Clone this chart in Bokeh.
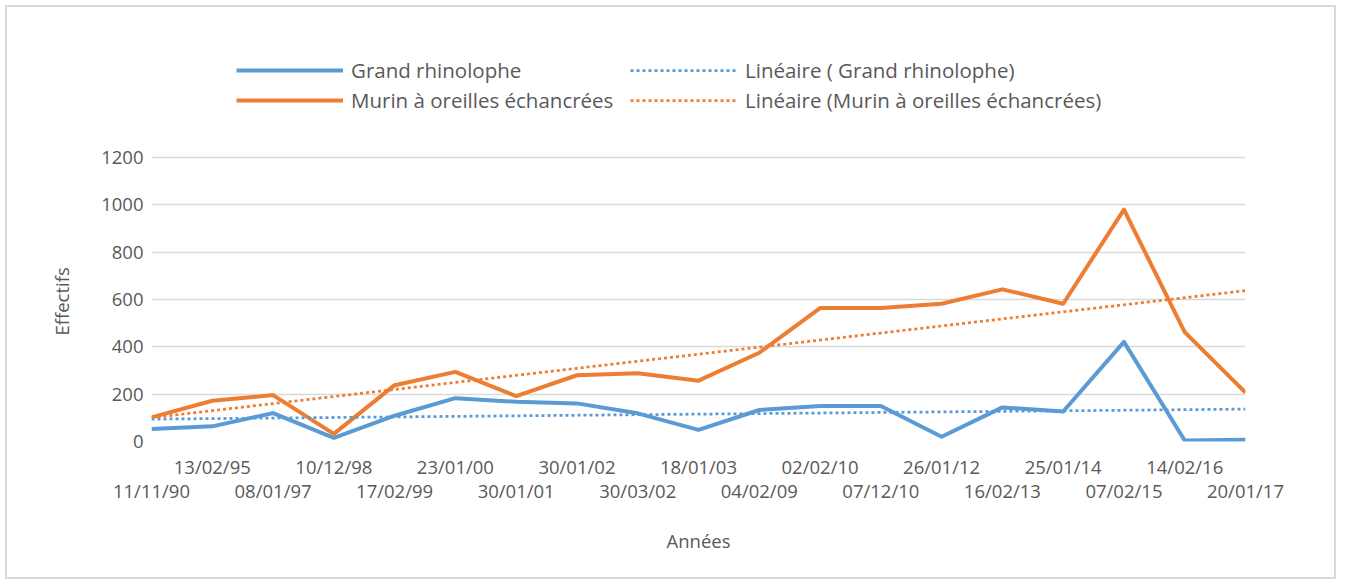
import numpy as np
from bokeh.plotting import figure
from bokeh.models import Range1d, LinearAxis, FixedTicker, Legend, LegendItem, Title
from bokeh.embed import file_html
from bokeh.resources import INLINE

dates = ["11/11/90", "13/02/95", "08/01/97", "10/12/98", "17/02/99", "23/01/00",
         "30/01/01", "30/01/02", "30/03/02", "18/01/03", "04/02/09", "02/02/10",
         "07/12/10", "26/01/12", "16/02/13", "25/01/14", "07/02/15", "14/02/16",
         "20/01/17"]
grand_rhinolophe = [53, 64, 120, 15, 109, 183, 168, 161, 119, 49, 133, 150,
                    150, 20, 144, 127, 421, 4, 7]
murin = [102, 172, 196, 32, 238, 294, 192, 280, 288, 257, 375, 564,
         564, 582, 643, 582, 980, 462, 207]
y_ticks = [0, 200, 400, 600, 800, 1000, 1200]

BLUE = "#5B9BD5"
ORANGE = "#ED7D31"
GREY = "#595959"
FONT = "Open Sans"
FS = "18.5px"
LFS = "20.5px"

idx = list(range(len(dates)))

def trend(vals):
    a, b = np.polyfit(idx, vals, 1)
    xs = [idx[0], idx[-1]]
    return xs, [a * x + b for x in xs]

# frame extends above the 1200 line so the legend (drawn inside the frame) is visible
FRAME_TOP = 20
FRAME_H = 414
PLOT_H = 284  # pixels between 0 and 1200
y_top = y_ticks[-1] * FRAME_H / PLOT_H

p = figure(width=1331, height=574, output_backend="svg", toolbar_location=None,
           x_range=Range1d(idx[0], idx[-1]), y_range=Range1d(0, y_top),
           x_axis_location=None, y_axis_location=None,
           min_border_left=144, min_border_right=93, min_border_top=FRAME_TOP,
           min_border_bottom=140)
p.styles = {"border": "2px solid #d9d9d9", "margin-left": "5px", "margin-top": "5px"}
p.outline_line_color = None
p.background_fill_color = "white"
p.border_fill_color = "white"

# Y axis
yticker = FixedTicker(ticks=y_ticks)
yax = LinearAxis(ticker=yticker)
p.add_layout(yax, "left")
yax.axis_line_color = None
yax.major_tick_line_color = None
yax.minor_tick_line_color = None
yax.major_label_standoff = 2
yax.major_label_text_font = FONT
yax.major_label_text_font_size = FS
yax.major_label_text_color = GREY

# y axis title, placed on the 0..1200 band rather than on the whole frame
ytitle = Title(text="Effectifs", align="left", offset=106, standoff=50,
               text_font=FONT, text_font_size=FS, text_font_style="normal",
               text_color=GREY)
p.add_layout(ytitle, "left")

p.ygrid.ticker = yticker
p.ygrid.grid_line_color = "#D9D9D9"
p.ygrid.grid_line_width = 1.3
p.xgrid.visible = False

# two staggered X axes
odd = [i for i in idx if i % 2 == 1]
even = [i for i in idx if i % 2 == 0]
ax1 = LinearAxis(ticker=FixedTicker(ticks=odd),
                 major_label_overrides={i: dates[i] for i in odd})
ax2 = LinearAxis(ticker=FixedTicker(ticks=even),
                 major_label_overrides={i: dates[i] for i in even},
                 axis_label="Années")
for ax in (ax1, ax2):
    ax.axis_line_color = None
    ax.major_tick_line_color = None
    ax.minor_tick_line_color = None
    ax.major_tick_out = 0
    ax.major_label_text_font = FONT
    ax.major_label_text_font_size = FS
    ax.major_label_text_color = GREY
    ax.axis_label_text_font = FONT
    ax.axis_label_text_font_size = FS
    ax.axis_label_text_font_style = "normal"
    ax.axis_label_text_color = GREY
ax1.major_label_standoff = 12
ax2.major_label_standoff = -4
ax2.axis_label_standoff = 22
p.add_layout(ax1, "below")
p.add_layout(ax2, "below")

# Data lines
r_gr = p.line(idx, grand_rhinolophe, line_color=BLUE, line_width=4, line_join="round")
r_mu = p.line(idx, murin, line_color=ORANGE, line_width=4, line_join="round")
tx, ty = trend(grand_rhinolophe)
r_tgr = p.line(tx, ty, line_color=BLUE, line_width=2.75, line_dash="3 3")
tx2, ty2 = trend(murin)
r_tmu = p.line(tx2, ty2, line_color=ORANGE, line_width=2.75, line_dash="3 3")

def mk_legend(items, y):
    lg = Legend(items=items, orientation="horizontal", location=(85, y))
    lg.border_line_color = None
    lg.background_fill_alpha = 0
    lg.padding = 0
    lg.margin = 0
    lg.glyph_width = 107
    lg.glyph_height = 20
    lg.label_standoff = 8
    lg.label_width = 275
    lg.spacing = 4
    lg.label_text_font = FONT
    lg.label_text_font_size = LFS
    lg.label_text_color = GREY
    return lg

leg1 = mk_legend([LegendItem(label="Grand rhinolophe", renderers=[r_gr]),
                  LegendItem(label="Linéaire ( Grand rhinolophe)", renderers=[r_tgr])], 357)
leg2 = mk_legend([LegendItem(label="Murin à oreilles échancrées", renderers=[r_mu]),
                  LegendItem(label="Linéaire (Murin à oreilles échancrées)", renderers=[r_tmu])], 327)
p.add_layout(leg1, "center")
p.add_layout(leg2, "center")

open("out.html", "w").write(file_html(p, INLINE))
